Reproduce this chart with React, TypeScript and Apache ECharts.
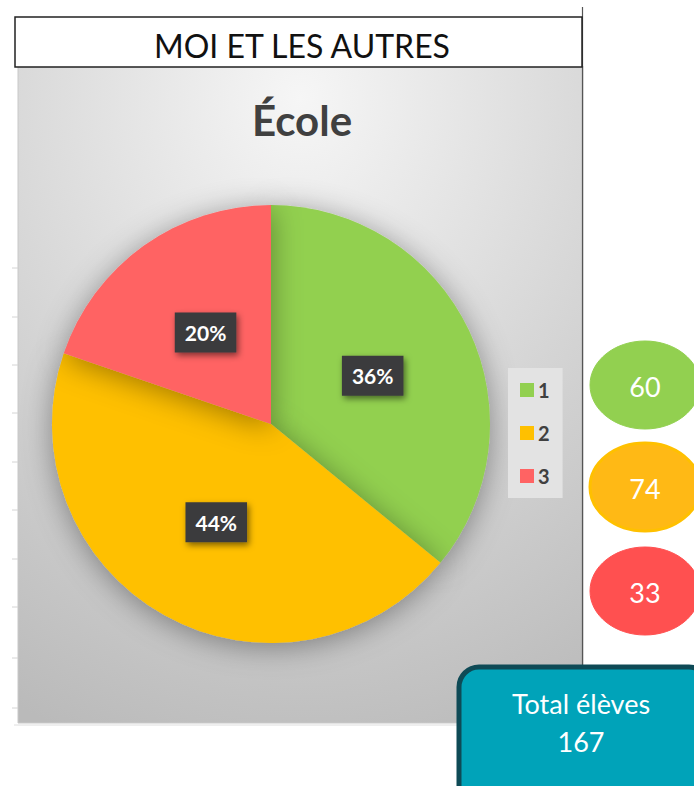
import React, { useEffect, useRef } from "react";
import * as echarts from "echarts";

const categories = ["1", "2", "3"];
const values = [60, 74, 33];
const pieColors = ["#92d050", "#ffc000", "#ff6363"];
const bubbleColors = ["#92d050", "#ffb915", "#ff5050"];
const mainTitle = "MOI ET LES AUTRES";
const chartTitle = "École";
const totalLabel = "Total élèves";

const FONT = "Lato, 'Open Sans', sans-serif";

export default function App() {
  const ref = useRef<HTMLDivElement>(null);
  useEffect(() => {
    if (!ref.current) return;
    const chart = echarts.init(ref.current, undefined, { renderer: "svg" });
    const total = values.reduce((a, b) => a + b, 0);
    const rowTicks = [268, 317, 365, 413, 462, 510, 559, 607, 658, 708];
    const bubbleY = [385, 487, 591];

    const graphics: any[] = [];
    graphics.push({
      type: "rect",
      z: -10,
      shape: { x: 18, y: 66, width: 565, height: 657 },
      style: {
        fill: new echarts.graphic.RadialGradient(0.5, 0.05, 1.05, [
          { offset: 0, color: "#f6f6f6" },
          { offset: 0.5, color: "#d8d8d8" },
          { offset: 1, color: "#bababa" },
        ]),
        stroke: "#c8c8c8",
        lineWidth: 1,
      },
    });
    graphics.push({
      type: "line",
      z: -9,
      shape: { x1: 14, y1: 725, x2: 460, y2: 725 },
      style: { stroke: "#dedede", lineWidth: 1 },
    });
    rowTicks.forEach((y) => {
      graphics.push({
        type: "line",
        z: -9,
        shape: { x1: 12, y1: y, x2: 18, y2: y },
        style: { stroke: "#d4d4d4", lineWidth: 1 },
      });
    });
    graphics.push({
      type: "line",
      z: 5,
      shape: { x1: 582.5, y1: 7, x2: 582.5, y2: 723 },
      style: { stroke: "#555555", lineWidth: 1.2 },
    });
    graphics.push({
      type: "rect",
      z: 5,
      shape: { x: 15, y: 17, width: 567, height: 50 },
      style: { fill: "#ffffff", stroke: "#222222", lineWidth: 1.5 },
    });
    graphics.push({
      type: "text",
      z: 6,
      style: {
        text: mainTitle,
        x: 302,
        y: 45,
        textAlign: "center",
        textVerticalAlign: "middle",
        fill: "#111111",
        fontSize: 32,
        fontFamily: FONT,
      },
    });
    values.forEach((v, i) => {
      graphics.push({
        type: "ellipse",
        z: 5,
        shape: { cx: 645, cy: bubbleY[i], rx: 55, ry: 44 },
        style: {
          fill: bubbleColors[i],
          stroke: i === 1 ? "#ffc000" : bubbleColors[i],
          lineWidth: i === 1 ? 3 : 1,
        },
      });
      graphics.push({
        type: "text",
        z: 6,
        style: {
          text: String(v),
          x: 645,
          y: bubbleY[i] + 1,
          textAlign: "center",
          textVerticalAlign: "middle",
          fill: "#ffffff",
          fontSize: 27,
          fontFamily: FONT,
        },
      });
    });
    graphics.push({
      type: "rect",
      z: 5,
      shape: { x: 459, y: 667, width: 250, height: 140, r: 20 },
      style: { fill: "#00a3b9", stroke: "#0e4a56", lineWidth: 5 },
    });
    graphics.push({
      type: "text",
      z: 6,
      style: {
        text: totalLabel,
        x: 581,
        y: 703,
        textAlign: "center",
        textVerticalAlign: "middle",
        fill: "#ffffff",
        fontSize: 27,
        fontFamily: FONT,
      },
    });
    graphics.push({
      type: "text",
      z: 6,
      style: {
        text: String(total),
        x: 581,
        y: 741,
        textAlign: "center",
        textVerticalAlign: "middle",
        fill: "#ffffff",
        fontSize: 27,
        fontFamily: FONT,
      },
    });

    chart.setOption({
      animation: false,
      backgroundColor: "#ffffff",
      title: {
        text: chartTitle,
        left: 297,
        top: 94,
        textAlign: "center",
        textStyle: {
          fontSize: 42,
          fontWeight: "bold",
          color: "#404040",
          fontFamily: FONT,
        },
      },
      legend: {
        orient: "vertical",
        left: 508,
        top: 368,
        data: categories,
        icon: "rect",
        itemWidth: 14,
        itemHeight: 14,
        itemGap: 23,
        padding: [12, 13, 12, 12],
        backgroundColor: "#e3e3e3",
        textStyle: {
          fontSize: 20,
          fontWeight: "bold",
          color: "#404040",
          fontFamily: FONT,
          padding: [0, 0, 0, -1],
        },
      },
      graphic: graphics,
      series: [
        {
          type: "pie",
          center: [271, 424],
          radius: 219,
          startAngle: 90,
          clockwise: true,
          percentPrecision: 0,
          itemStyle: {
            shadowBlur: 30,
            shadowColor: "rgba(0,0,0,0.38)",
            shadowOffsetY: 4,
          },
          label: {
            position: "inside",
            formatter: (p: any) => Math.round(p.percent) + "%",
            color: "#ffffff",
            fontWeight: "bold",
            fontSize: 21,
            fontFamily: FONT,
            backgroundColor: "#3a3a3c",
            padding: [10, 10, 9, 10],
            shadowBlur: 6,
            shadowColor: "rgba(0,0,0,0.5)",
            shadowOffsetX: 2,
            shadowOffsetY: 3,
          },
          labelLine: { show: false },
          emphasis: { disabled: true },
          data: categories.map((c, i) => ({
            name: c,
            value: values[i],
            itemStyle: { color: pieColors[i] },
          })),
        },
      ],
    });
    return () => chart.dispose();
  }, []);
  return (
    <div
      ref={ref}
      style={{ position: "fixed", left: 0, top: 0, width: 694, height: 786 }}
    />
  );
}
